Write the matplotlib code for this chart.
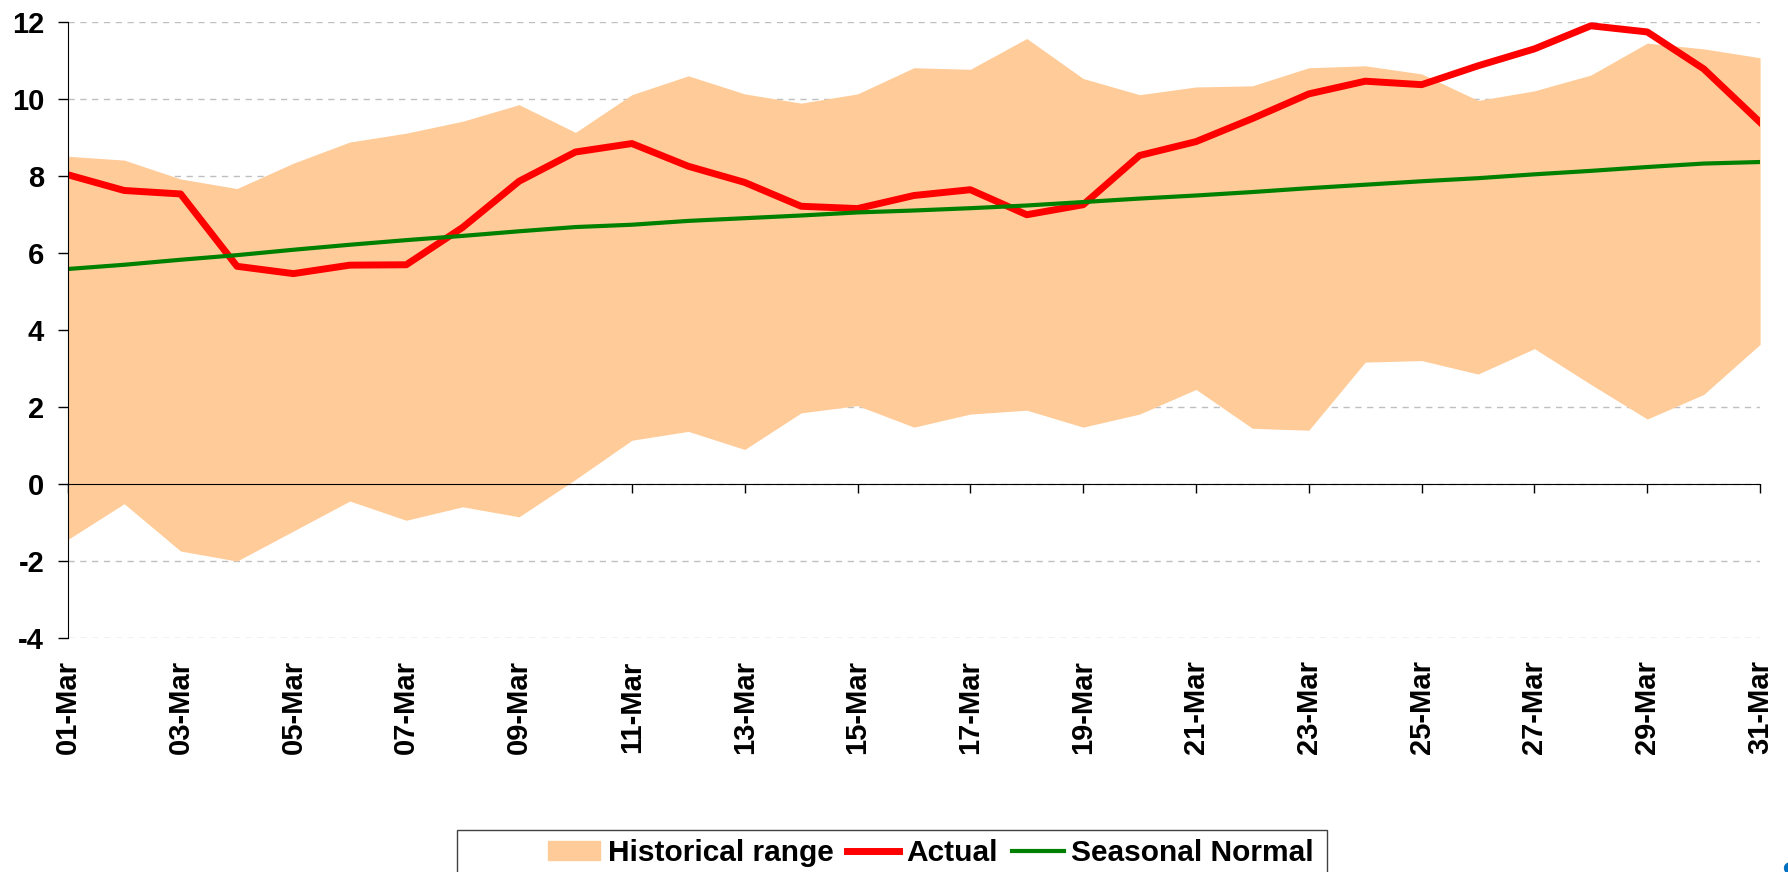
import matplotlib
matplotlib.use('Agg')
import matplotlib.pyplot as plt
from matplotlib.patches import Rectangle
from matplotlib.lines import Line2D
import numpy as np

plt.rcParams['font.family'] = ['Liberation Sans', 'DejaVu Sans']
plt.rcParams['font.weight'] = 'bold'
plt.rcParams['axes.unicode_minus'] = False   # обычный дефис, как в оригинале

# данные
days = [f'{d:02d}-Mar' for d in range(1, 32)]

hist_high = [8.52, 8.42, 7.93, 7.68, 8.34, 8.89, 9.12, 9.43, 9.86, 9.14,
             10.12, 10.61, 10.14, 9.90, 10.14, 10.82, 10.78, 11.58, 10.54, 10.12,
             10.32, 10.35, 10.82, 10.87, 10.66, 9.97, 10.22, 10.63, 11.46, 11.31, 11.08]
hist_low = [-1.44, -0.51, -1.74, -2.00, -1.22, -0.44, -0.94, -0.59, -0.85, 0.12,
            1.14, 1.37, 0.90, 1.85, 2.04, 1.48, 1.82, 1.92, 1.48, 1.82,
            2.46, 1.45, 1.40, 3.17, 3.21, 2.86, 3.52, 2.59, 1.69, 2.33, 3.63]
actual = [8.04, 7.63, 7.54, 5.66, 5.47, 5.69, 5.70, 6.67, 7.87, 8.63,
          8.85, 8.26, 7.84, 7.22, 7.16, 7.50, 7.65, 7.00, 7.26, 8.54,
          8.90, 9.50, 10.14, 10.47, 10.38, 10.87, 11.31, 11.91, 11.75, 10.79, 9.40]
seasonal = [5.59, 5.70, 5.83, 5.95, 6.09, 6.22, 6.34, 6.45, 6.57, 6.68,
            6.74, 6.84, 6.91, 6.98, 7.06, 7.11, 7.17, 7.24, 7.33, 7.42,
            7.50, 7.59, 7.69, 7.78, 7.87, 7.95, 8.05, 8.14, 8.24, 8.33, 8.37]
y_ticks = [-4, -2, 0, 2, 4, 6, 8, 10, 12]

x = np.arange(len(days))

fig = plt.figure(figsize=(17.88, 8.72), dpi=100)
ax = fig.add_axes([0.0379, 0.2683, 0.9465, 0.7061])

# сетка за заливкой
ax.set_axisbelow(True)
ax.yaxis.grid(True, color='#BFBFBF', linestyle=(0, (4.5, 4)), linewidth=1)

ax.fill_between(x, hist_low, hist_high, color='#FFCC99', linewidth=0)
ax.plot(x, actual, color='#FF0000', linewidth=5)
ax.plot(x, seasonal, color='#008000', linewidth=3)

ax.set_xlim(0, len(days) - 1)
ax.set_ylim(-4, 12)
ax.set_yticks(y_ticks)
ax.tick_params(axis='y', labelsize=21, direction='out', length=7, width=1, pad=10)

# ось X проходит через 0, подписи внизу
ax.spines['bottom'].set_position(('data', 0))
ax.spines['top'].set_visible(False)
ax.spines['right'].set_visible(False)
ax.set_xticks(x[::2])
ax.tick_params(axis='x', labelbottom=False, direction='out', length=6.5, width=1)

sec = ax.secondary_xaxis(0)
sec.set_xticks(x[::2])
sec.set_xticklabels(days[::2], rotation=90, fontsize=21, fontweight='bold')
sec.tick_params(length=0, pad=16)
sec.spines['bottom'].set_visible(False)

# легенда
handles = [Rectangle((0, 0), 1, 1, color='#FFCC99'),
           Line2D([], [], color='#FF0000', linewidth=5),
           Line2D([], [], color='#008000', linewidth=3)]
fig.legend(handles, ['Historical range', 'Actual', 'Seasonal Normal'],
           loc='center left', bbox_to_anchor=(548 / 1788, 1 - 853 / 872),
           ncol=3, frameon=False, prop={'weight': 'bold', 'size': 21.5},
           handlelength=1.75, handleheight=0.65, handletextpad=0.25,
           columnspacing=0.45, borderpad=0, borderaxespad=0)
fig.patches.append(Rectangle((456.5 / 1788, -0.05), (1326.7 - 456.5) / 1788, 0.0982,
                             transform=fig.transFigure, fill=False,
                             edgecolor='#404040', linewidth=1))

# обрезанный значок в правом нижнем углу
fig.text(1781 / 1788, 1 - 861 / 872, 'S', color='#0070C0', fontsize=22,
         fontweight='bold', ha='left', va='top')

plt.savefig('out.png', dpi=100)
